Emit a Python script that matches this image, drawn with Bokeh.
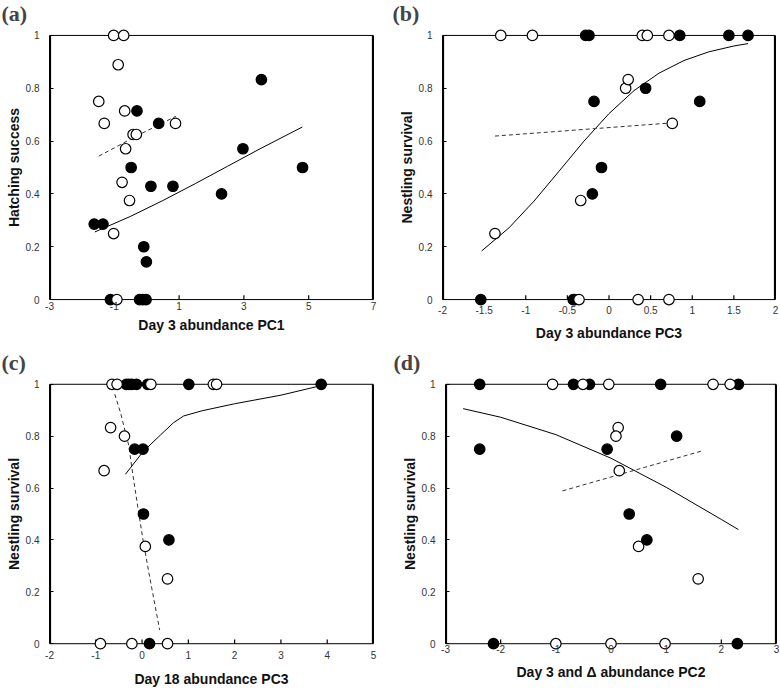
from bokeh.plotting import figure
from bokeh.layouts import column, row
from bokeh.models import FixedTicker, Range1d, LinearAxis
from bokeh.embed import file_html
from bokeh.resources import INLINE

# ---------------- data ----------------
y_ticks = [0, 0.2, 0.4, 0.6, 0.8, 1]
y_tick_labels = ["0", "0.2", "0.4", "0.6", "0.8", "1"]

# (a) Hatching success vs Day 3 abundance PC1
a_xticks = [-3, -1, 1, 3, 5, 7]
a_xtick_labels = ["-3", "-1", "1", "3", "5", "7"]
a_filled_x = [-1.62, -1.35, -0.30, 0.37, -0.48, 0.13, 0.81, -0.09, -0.01, 2.31, 2.97, 3.54, 4.81, -1.12, -0.22, -0.12, -0.02]
a_filled_y = [0.286, 0.286, 0.714, 0.667, 0.5, 0.429, 0.429, 0.2, 0.143, 0.4, 0.571, 0.833, 0.5, 0, 0, 0, 0]
a_open_x = [-1.02, -0.71, -0.88, -1.48, -1.31, -0.68, -0.42, -0.32, -0.65, 0.89, -0.76, -0.53, -1.02, -0.92]
a_open_y = [1, 1, 0.889, 0.75, 0.667, 0.714, 0.625, 0.625, 0.571, 0.667, 0.444, 0.375, 0.25, 0]
a_solid_x = [-1.6, -0.5, 0.5, 1.5, 2.5, 3.5, 4.8]
a_solid_y = [0.256, 0.315, 0.375, 0.439, 0.505, 0.571, 0.653]
a_dash_x = [-1.48, -0.3, 0.9]
a_dash_y = [0.543, 0.62, 0.694]

# (b) Nestling survival vs Day 3 abundance PC3
b_xticks = [-2, -1.5, -1, -0.5, 0, 0.5, 1, 1.5, 2]
b_xtick_labels = ["-2", "-1.5", "-1", "-0.5", "0", "0.5", "1", "1.5", "2"]
b_filled_x = [-0.28, -0.24, 0.85, 1.44, 1.67, -0.18, 0.44, 1.09, -0.09, -0.2, -1.54, -0.43, -0.41]
b_filled_y = [1, 1, 1, 1, 1, 0.75, 0.8, 0.75, 0.5, 0.4, 0, 0, 0]
b_open_x = [-1.30, -0.92, 0.40, 0.46, 0.72, 0.20, 0.23, 0.76, -0.34, -1.37, -0.36, 0.35, 0.72]
b_open_y = [1, 1, 1, 1, 1, 0.8, 0.833, 0.667, 0.375, 0.25, 0, 0, 0]
b_solid_x = [-1.53, -1.2, -0.9, -0.6, -0.3, 0, 0.3, 0.6, 0.9, 1.2, 1.5, 1.67]
b_solid_y = [0.184, 0.272, 0.373, 0.486, 0.6, 0.704, 0.791, 0.857, 0.905, 0.938, 0.96, 0.969]
b_dash_x = [-1.37, 0.76]
b_dash_y = [0.619, 0.669]

# (c) Nestling survival vs Day 18 abundance PC3
c_xticks = [-2, -1, 0, 1, 2, 3, 4, 5]
c_xtick_labels = ["-2", "-1", "0", "1", "2", "3", "4", "5"]
c_filled_x = [-0.34, -0.28, -0.22, -0.12, 0.12, 1.01, 3.87, -0.16, 0.02, 0.03, 0.58, 0.16]
c_filled_y = [1, 1, 1, 1, 1, 1, 1, 0.75, 0.75, 0.5, 0.4, 0]
c_open_x = [-0.65, -0.54, 0.19, 1.54, 1.61, -0.68, -0.38, -0.82, 0.07, 0.55, -0.90, -0.22, 0.55]
c_open_y = [1, 1, 1, 1, 1, 0.833, 0.8, 0.667, 0.375, 0.25, 0, 0, 0]
c_solid_x = [-0.36, 0.02, 0.4, 0.68, 0.9, 1.3, 2.0, 3.0, 3.87]
c_solid_y = [0.653, 0.74, 0.805, 0.852, 0.878, 0.898, 0.925, 0.958, 0.995]
c_dash_x = [-0.59, -0.47, -0.29, -0.2, -0.07, 0.03, 0.16, 0.38]
c_dash_y = [0.962, 0.893, 0.766, 0.653, 0.501, 0.39, 0.261, 0.053]

# (d) Nestling survival vs Day 3 and Δ abundance PC2
d_xticks = [-3, -2, -1, 0, 1, 2, 3]
d_xtick_labels = ["-3", "-2", "-1", "0", "1", "2", "3"]
d_filled_x = [-2.38, -0.68, -0.39, 0.90, 2.31, -2.38, -0.07, 1.19, 0.33, 0.65, -2.13, 2.29]
d_filled_y = [1, 1, 1, 1, 1, 0.75, 0.75, 0.8, 0.5, 0.4, 0, 0]
d_open_x = [-1.06, -0.51, -0.04, 1.85, 2.16, 0.13, 0.09, 0.15, 0.50, 1.58, -1.0, 0.0, 0.98]
d_open_y = [1, 1, 1, 1, 1, 0.833, 0.8, 0.667, 0.375, 0.25, 0, 0, 0]
d_solid_x = [-2.68, -2, -1, 0, 1, 2, 2.31]
d_solid_y = [0.906, 0.873, 0.806, 0.715, 0.603, 0.479, 0.44]
d_dash_x = [-0.88, 1.63]
d_dash_y = [0.589, 0.742]

PAD = 0.03      # vertical padding so markers at 0 and 1 are not clipped
TICK = 0.016    # inward x-tick length (data units of y)
EDGE_PX = 1.6   # thickness of the box sides in pixels
TICK_PX = 1.2   # thickness of the x tick marks in pixels


def make_panel(letter, xlabel, ylabel, xr, xticks, xlabels,
               fx, fy, ox, oy, sx, sy, dx, dy,
               width, height, borders, x_std, y_std, title_off):
    left, right, top, bottom = borders
    span = xr[1] - xr[0]
    px = span / float(width - left - right)   # data units per pixel (approx.)
    p = figure(width=width, height=height,
               x_range=Range1d(xr[0], xr[1]), y_range=Range1d(-PAD, 1 + PAD),
               output_backend="svg", toolbar_location=None,
               min_border_left=left, min_border_right=right,
               min_border_top=top, min_border_bottom=bottom)
    p.xgrid.visible = False
    p.ygrid.visible = False
    p.outline_line_color = None
    p.background_fill_color = "white"
    p.border_fill_color = "white"

    # panel letter as the figure title
    p.title.text = letter
    p.title.text_font = "Liberation Serif"
    p.title.text_font_style = "bold"
    p.title.text_font_size = "22px"
    p.title.align = "left"
    p.title.vertical_align = "top"
    p.title.standoff = 0
    p.title.offset = title_off
    p.title.text_line_height = 0.7

    p.xaxis.ticker = FixedTicker(ticks=xticks)
    p.xaxis.major_label_overrides = dict(zip(xticks, xlabels))
    p.yaxis.ticker = FixedTicker(ticks=y_ticks)
    p.yaxis.major_label_overrides = dict(zip(y_ticks, y_tick_labels))
    p.xaxis.axis_label = xlabel
    p.yaxis.axis_label = ylabel
    for ax in (p.xaxis, p.yaxis):
        ax.minor_tick_in = 0
        ax.minor_tick_out = 0
        ax.major_tick_line_color = "black"
        ax.major_label_text_font = "Liberation Sans"
        ax.major_label_text_font_size = "10px"
        ax.major_label_text_color = "#333333"
        ax.axis_label_text_font = "Liberation Sans"
        ax.axis_label_text_font_style = "bold"
        ax.axis_label_text_font_size = "14px"
        ax.axis_label_text_color = "#111111"
    p.xaxis.axis_line_color = None
    p.xaxis.major_tick_in = 0
    p.xaxis.major_tick_out = 0
    p.yaxis.bounds = (0, 1)
    p.yaxis.axis_line_color = "black"
    p.yaxis.axis_line_width = 1
    p.yaxis.major_tick_in = 4
    p.yaxis.major_tick_out = 0
    p.xaxis.major_label_standoff = x_std[0]
    p.xaxis.axis_label_standoff = x_std[1]
    p.yaxis.major_label_standoff = y_std[0]
    p.yaxis.axis_label_standoff = y_std[1]

    right_ax = LinearAxis(bounds=(0, 1), ticker=FixedTicker(ticks=[]),
                          axis_line_color="black", axis_line_width=1,
                          major_tick_in=0, major_tick_out=0,
                          minor_tick_in=0, minor_tick_out=0,
                          major_label_standoff=0, axis_label_standoff=0)
    p.add_layout(right_ax, "right")

    # box: top and bottom lines, sides as thin filled quads just inside the frame
    p.line([xr[0], xr[1]], [0, 0], line_color="black", line_width=1)
    p.line([xr[0], xr[1]], [1, 1], line_color="black", line_width=1)
    p.quad(left=[xr[0], xr[1] - EDGE_PX * px], right=[xr[0] + EDGE_PX * px, xr[1]],
           bottom=[0, 0], top=[1, 1], fill_color="black", line_color=None)
    # inward x tick marks on the y=0 line, as thin quads
    p.quad(left=[t - TICK_PX * px / 2 for t in xticks],
           right=[t + TICK_PX * px / 2 for t in xticks],
           bottom=[0] * len(xticks), top=[TICK] * len(xticks),
           fill_color="black", line_color=None)

    p.line(sx, sy, line_color="black", line_width=1)
    p.line(dx, dy, line_color="#333333", line_width=1, line_dash="4 3")
    p.scatter(fx, fy, marker="circle", size=10.5, fill_color="black",
              line_color="black", line_width=1.2)
    p.scatter(ox, oy, marker="circle", size=10.5, fill_color="white",
              line_color="black", line_width=1.2)
    return p


pa = make_panel("(a)", "Day 3 abundance PC1", "Hatching success", (-3, 7), a_xticks, a_xtick_labels,
                a_filled_x, a_filled_y, a_open_x, a_open_y, a_solid_x, a_solid_y, a_dash_x, a_dash_y,
                390, 345, (49, 17, 26, 38), (-6, 4), (10, 1), -48)
pb = make_panel("(b)", "Day 3 abundance PC3", "Nestling survival", (-2, 2), b_xticks, b_xtick_labels,
                b_filled_x, b_filled_y, b_open_x, b_open_y, b_solid_x, b_solid_y, b_dash_x, b_dash_y,
                390, 345, (52, 5, 25, 36), (-2, 8), (10, 1), -50)
pc = make_panel("(c)", "Day 18 abundance PC3", "Nestling survival", (-2, 5), c_xticks, c_xtick_labels,
                c_filled_x, c_filled_y, c_open_x, c_open_y, c_solid_x, c_solid_y, c_dash_x, c_dash_y,
                390, 345, (49, 17, 31, 35), (-1, 9), (10, 1), -48)
pd = make_panel("(d)", "Day 3 and \u0394 abundance PC2", "Nestling survival", (-3, 3), d_xticks, d_xtick_labels,
                d_filled_x, d_filled_y, d_open_x, d_open_y, d_solid_x, d_solid_y, d_dash_x, d_dash_y,
                390, 345, (55, 4, 30, 39), (-7, 8), (10, 1), -52)

layout = column(row(pa, pb), row(pc, pd))
open("out.html", "w").write(file_html(layout, INLINE))
